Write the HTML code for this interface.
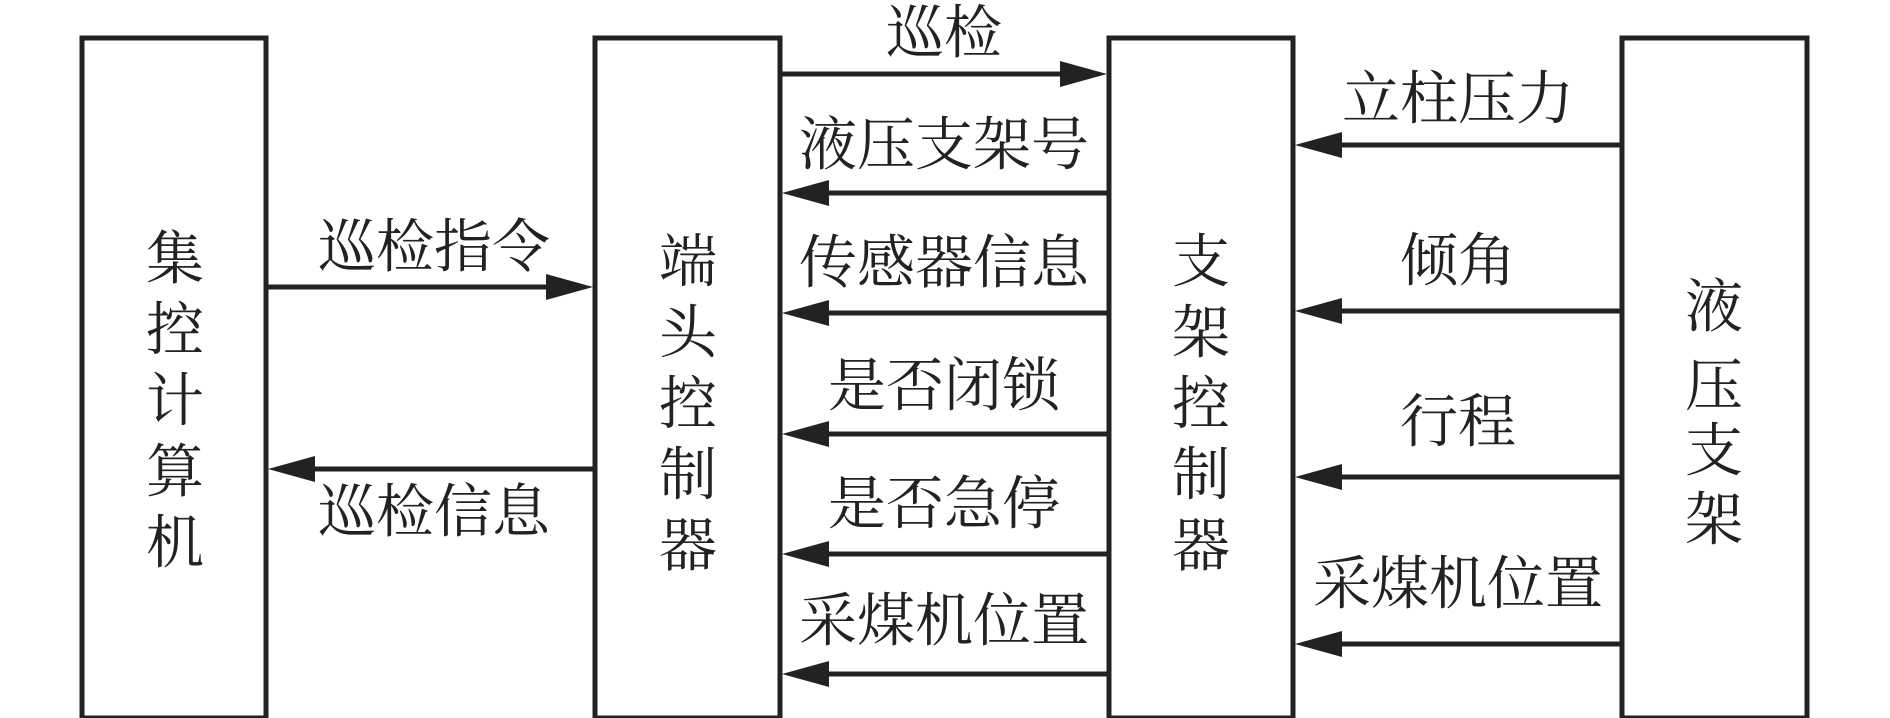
<!DOCTYPE html>
<html><head><meta charset="utf-8"><style>
html,body{margin:0;padding:0;background:#fff;}
svg{display:block}
text{font-family:"Liberation Serif","Noto Serif CJK SC",serif;font-size:58px;fill:#222;text-anchor:middle;dominant-baseline:central;}
</style></head><body>
<svg width="1890" height="718" viewBox="0 0 1890 718">
<g fill="none" stroke="#222" stroke-width="5">
<rect x="82" y="38" width="184" height="680"/>
<rect x="595" y="38" width="185" height="680"/>
<rect x="1109" y="38" width="184" height="680"/>
<rect x="1622" y="38" width="185" height="680"/>
</g>
<g stroke="#222" stroke-width="5">
<line x1="780" y1="74" x2="1065" y2="74"/>
<line x1="266" y1="287" x2="550" y2="287"/>
<line x1="311" y1="469" x2="595" y2="469"/>
<line x1="825" y1="193" x2="1109" y2="193"/>
<line x1="825" y1="313" x2="1109" y2="313"/>
<line x1="825" y1="434" x2="1109" y2="434"/>
<line x1="825" y1="554" x2="1109" y2="554"/>
<line x1="825" y1="674" x2="1109" y2="674"/>
<line x1="1338" y1="145" x2="1622" y2="145"/>
<line x1="1338" y1="311" x2="1622" y2="311"/>
<line x1="1338" y1="477" x2="1622" y2="477"/>
<line x1="1338" y1="644" x2="1622" y2="644"/>
</g>
<g fill="#222">
<polygon points="1107,74 1060,61 1060,87"/>
<polygon points="593,287 546,274 546,300"/>
<polygon points="268,469 315,456 315,482"/>
<polygon points="782,193 829,180 829,206"/>
<polygon points="782,313 829,300 829,326"/>
<polygon points="782,434 829,421 829,447"/>
<polygon points="782,554 829,541 829,567"/>
<polygon points="782,674 829,661 829,687"/>
<polygon points="1295,145 1342,132 1342,158"/>
<polygon points="1295,311 1342,298 1342,324"/>
<polygon points="1295,477 1342,464 1342,490"/>
<polygon points="1295,644 1342,631 1342,657"/>
</g>
<text x="944" y="33">巡检</text>
<text x="944" y="145">液压支架号</text>
<text x="944" y="263">传感器信息</text>
<text x="944" y="386">是否闭锁</text>
<text x="944" y="504">是否急停</text>
<text x="944" y="621">采煤机位置</text>
<text x="434" y="247">巡检指令</text>
<text x="434" y="512">巡检信息</text>
<text x="1458" y="99">立柱压力</text>
<text x="1458" y="261">倾角</text>
<text x="1458" y="422">行程</text>
<text x="1458" y="584">采煤机位置</text>
<text x="175" y="259">集</text><text x="175" y="330">控</text><text x="175" y="401">计</text><text x="175" y="472">算</text><text x="175" y="543">机</text>
<text x="688" y="262">端</text><text x="688" y="333">头</text><text x="688" y="404">控</text><text x="688" y="475">制</text><text x="688" y="546">器</text>
<text x="1201" y="262">支</text><text x="1201" y="333">架</text><text x="1201" y="404">控</text><text x="1201" y="475">制</text><text x="1201" y="546">器</text>
<text x="1714" y="307">液</text><text x="1714" y="386">压</text><text x="1714" y="451">支</text><text x="1714" y="520">架</text>
</svg>
</body></html>
